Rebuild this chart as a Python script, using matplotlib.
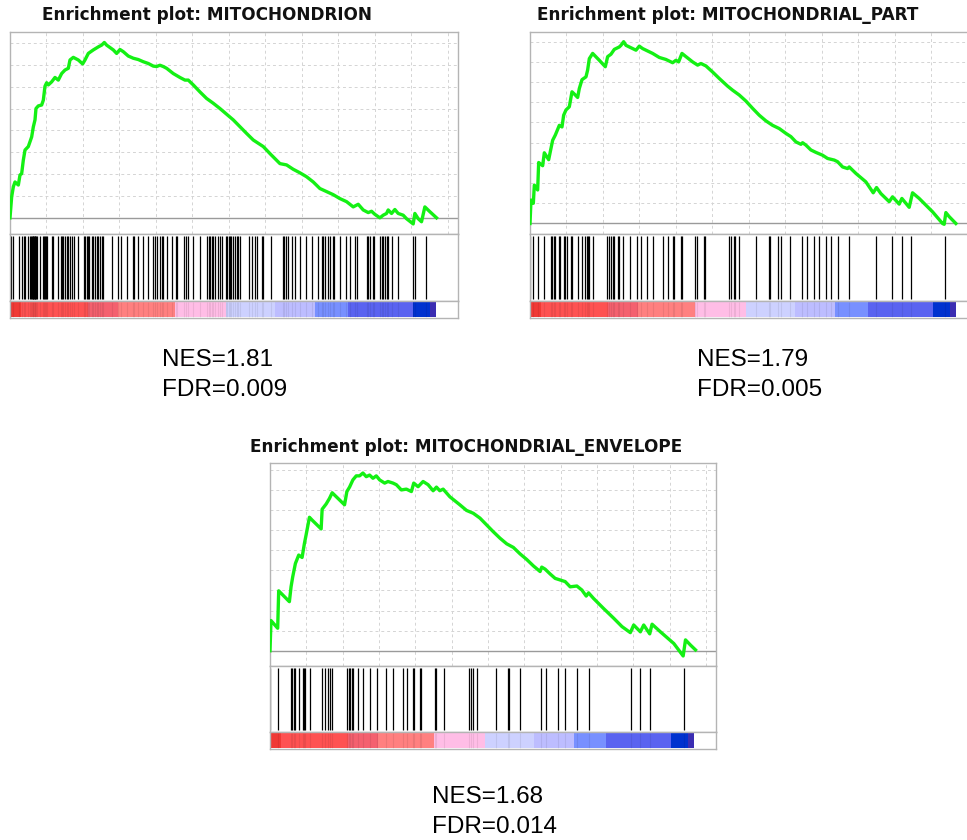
import matplotlib
matplotlib.use("Agg")
import matplotlib.pyplot as plt
import numpy as np

W, H = 967, 840
fig = plt.figure(figsize=(W / 100, H / 100), dpi=100)
fig.patch.set_facecolor("white")

# ---------------- data ----------------
titles = ["Enrichment plot: MITOCHONDRION",
          "Enrichment plot: MITOCHONDRIAL_PART",
          "Enrichment plot: MITOCHONDRIAL_ENVELOPE"]
nes_values = ["1.81", "1.79", "1.68"]
fdr_values = ["0.009", "0.005", "0.014"]

x_max = 24550
x_grid = list(range(0, 24001, 2000))

# running enrichment score, panel 1 (rank, ES)
es1_rank = [0, 91, 183, 274, 457, 548, 639, 730, 822, 1004, 1187, 1278, 1370, 1424, 1552,
            1735, 1826, 1917, 2009, 2100, 2283, 2465, 2648, 2830, 3013, 3196, 3287, 3469,
            3743, 3981, 4109, 4291, 4565, 4839, 5022, 5168, 5295, 5661, 5843, 6026, 6208,
            6482, 6756, 7030, 7304, 7578, 7852, 8034, 8217, 8400, 8582, 8947, 9313, 9587,
            9769, 10043, 10408, 10773, 11139, 11504, 12234, 12965, 13330, 13878, 14243,
            14791, 15156, 15521, 15886, 16251, 16617, 16982, 17347, 17712, 18077, 18443,
            18808, 19082, 19356, 19630, 19812, 19995, 20269, 20451, 20634, 20725, 20908,
            21090, 21273, 21547, 21729, 22095, 22186, 22369, 22551, 22734, 23008, 23373]
es1_val = [0.0, 0.048, 0.071, 0.082, 0.075, 0.098, 0.101, 0.132, 0.155, 0.163, 0.185, 0.208,
           0.224, 0.250, 0.256, 0.258, 0.269, 0.301, 0.309, 0.304, 0.311, 0.321, 0.315,
           0.330, 0.338, 0.342, 0.361, 0.367, 0.361, 0.352, 0.361, 0.376, 0.384, 0.391,
           0.395, 0.401, 0.395, 0.384, 0.376, 0.385, 0.380, 0.370, 0.365, 0.362, 0.357,
           0.353, 0.347, 0.346, 0.349, 0.346, 0.342, 0.330, 0.321, 0.315, 0.315, 0.304,
           0.288, 0.273, 0.262, 0.250, 0.224, 0.193, 0.178, 0.163, 0.147, 0.124, 0.121,
           0.111, 0.103, 0.094, 0.082, 0.067, 0.060, 0.053, 0.044, 0.037, 0.025, 0.031,
           0.018, 0.012, 0.015, 0.008, 0.0, 0.006, 0.010, 0.018, 0.010, 0.019, 0.010,
           0.006, -0.002, -0.014, 0.010, -0.002, -0.009, 0.025, 0.014, 0.0]

# panel 2
es2_rank = [0, 55, 183, 237, 420, 475, 694, 785, 1023, 1150, 1242, 1388, 1516, 1607, 1753,
            1844, 1972, 2155, 2301, 2483, 2611, 2702, 2849, 3068, 3159, 3250, 3433, 3798,
            4127, 4255, 4437, 4620, 4894, 4985, 5131, 5259, 5624, 5807, 5989, 6172, 6446,
            6720, 7085, 7451, 7816, 7998, 8144, 8327, 8546, 8911, 9185, 9367, 9641, 10006,
            10372, 10828, 11102, 11467, 11833, 12198, 12563, 12928, 13293, 13659, 14024,
            14298, 14572, 14846, 14937, 15119, 15393, 15667, 16032, 16306, 16671, 16854,
            17128, 17402, 17493, 17858, 18406, 18808, 18990, 19228, 19684, 19867, 20232,
            20378, 20780, 20962, 21327, 22058, 22606, 22697, 22789, 22971, 23337]
es2_val = [0.0, 0.058, 0.050, 0.095, 0.083, 0.151, 0.143, 0.175, 0.158, 0.186, 0.206, 0.219,
           0.233, 0.243, 0.239, 0.268, 0.281, 0.289, 0.326, 0.318, 0.312, 0.334, 0.356,
           0.363, 0.380, 0.408, 0.421, 0.404, 0.388, 0.413, 0.419, 0.431, 0.437, 0.441,
           0.450, 0.441, 0.433, 0.429, 0.439, 0.433, 0.427, 0.421, 0.411, 0.406, 0.398,
           0.404, 0.400, 0.421, 0.413, 0.400, 0.392, 0.396, 0.390, 0.375, 0.359, 0.340,
           0.330, 0.318, 0.303, 0.285, 0.268, 0.254, 0.243, 0.235, 0.223, 0.215, 0.202,
           0.196, 0.200, 0.194, 0.182, 0.176, 0.169, 0.161, 0.157, 0.153, 0.140, 0.136,
           0.140, 0.124, 0.103, 0.076, 0.089, 0.074, 0.054, 0.066, 0.048, 0.062, 0.040,
           0.076, 0.062, 0.029, 0.0, -0.002, 0.027, 0.017, 0.0]

# panel 3
es3_rank = [0, 55, 423, 478, 1067, 1159, 1251, 1398, 1582, 1766, 1895, 1987, 2171, 2318,
            2815, 2870, 3091, 3275, 3422, 4103, 4232, 4379, 4563, 4747, 4931, 5115, 5299,
            5483, 5667, 5851, 6035, 6311, 6495, 6771, 6955, 7231, 7507, 7783, 7912, 8151,
            8427, 8703, 8979, 9163, 9347, 9531, 9899, 10451, 10819, 11187, 11555, 11923,
            12291, 12659, 13027, 13395, 13763, 14131, 14499, 14867, 14959, 15143, 15419,
            15695, 15971, 16247, 16523, 16891, 17167, 17406, 17535, 17811, 18363, 18915,
            19375, 19835, 20019, 20387, 20571, 20902, 21031, 21491, 22227, 22742, 22871,
            23147, 23423]
es3_val = [0.0, 0.075, 0.056, 0.149, 0.122, 0.159, 0.184, 0.217, 0.238, 0.232, 0.267, 0.288,
           0.332, 0.325, 0.303, 0.352, 0.365, 0.379, 0.393, 0.363, 0.396, 0.407, 0.425,
           0.435, 0.435, 0.442, 0.433, 0.437, 0.429, 0.435, 0.425, 0.417, 0.421, 0.417,
           0.413, 0.400, 0.402, 0.396, 0.417, 0.408, 0.421, 0.413, 0.398, 0.407, 0.398,
           0.402, 0.383, 0.363, 0.349, 0.342, 0.330, 0.313, 0.296, 0.280, 0.266, 0.257,
           0.241, 0.227, 0.211, 0.197, 0.208, 0.203, 0.191, 0.180, 0.176, 0.172, 0.159,
           0.161, 0.151, 0.136, 0.144, 0.130, 0.105, 0.081, 0.060, 0.045, 0.064, 0.047,
           0.064, 0.042, 0.066, 0.047, 0.018, -0.013, 0.027, 0.014, 0.002]

# gene-set hit positions (rank in ordered list)
hits1 = [37, 183, 511, 639, 767, 840, 1004, 1096, 1150, 1205, 1240, 1278, 1315, 1351, 1390,
         1424, 1461, 1643, 1826, 1881, 1930, 1972, 2045, 2283, 2374, 2648, 2794, 2867,
         2922, 3013, 3104, 3196, 3287, 3378, 3506, 3743, 4054, 4127, 4200, 4291, 4346,
         4474, 4565, 4656, 4748, 4839, 4930, 5040, 5113, 5569, 5935, 6062, 6391, 6720,
         6793, 7030, 7304, 7578, 7852, 7925, 8034, 8217, 8308, 8400, 8582, 8856, 9093,
         9167, 9550, 9641, 9769, 10043, 10408, 10810, 10883, 10956, 11047, 11139, 11230,
         11413, 11504, 11595, 11832, 11906, 11979, 12052, 12125, 12198, 12344, 12417,
         12508, 12599, 13111, 13239, 13421, 13549, 13786, 13841, 14279, 14937, 15010,
         15119, 15247, 15430, 15612, 15886, 16215, 16525, 16891, 17073, 17128, 17256,
         17438, 17530, 17676, 17767, 18077, 18406, 18625, 18899, 18990, 19538, 19630,
         19721, 19867, 19940, 20269, 20360, 20451, 20543, 20634, 20725, 20908, 21273,
         22095, 22186, 22788]
hits2 = [18, 146, 457, 749, 1150, 1223, 1296, 1388, 1570, 1643, 1844, 1917, 2009, 2246,
         2283, 2611, 2830, 3031, 3122, 3196, 3250, 3433, 4200, 4309, 4437, 4528, 4620,
         4802, 4894, 5076, 5496, 5843, 6081, 6391, 6756, 7304, 7541, 7815, 7870, 8272,
         8327, 9057, 9130, 9513, 9587, 10919, 11011, 11157, 11248, 11467, 12380, 13074,
         13165, 13567, 13750, 14243, 14900, 15156, 15576, 15850, 16215, 16489, 16854,
         17493, 18954, 19830, 20378, 20871, 22752]
hits3 = [18, 460, 1159, 1214, 1306, 1398, 1619, 1803, 1895, 1950, 2226, 2852, 3054, 3183,
         3312, 3422, 4232, 4342, 4416, 4526, 4563, 4839, 5115, 5483, 5888, 6403, 6771,
         7323, 7562, 7875, 7930, 8280, 8335, 9108, 9163, 9568, 10948, 11040, 11187,
         11408, 12438, 13082, 13156, 13763, 14922, 15198, 15879, 16247, 16891, 17535,
         19890, 20387, 20902, 22779]

# ranked-metric heat bar: segment edges (rank) and colours
cb_edges = [0, 603, 4274, 5918, 9042, 11836, 14522, 16714, 18522, 22084, 23016, 23345]
cb_colors = ["#f03a36", "#fe5252", "#f4616f", "#ff8080", "#ffbde6", "#cdd1ff",
             "#bdbdff", "#7890ff", "#5a63f0", "#0032cf", "#3b2db2"]

# ---------------- layout (pixels) ----------------
panels = [
    dict(title=titles[0], rank=es1_rank, es=es1_val, hits=hits1,
         x0=10, x1=458, top=32, es_bot=234, hit_bot=301, cb_bot=318,
         ylim=(-0.037, 0.425), ytop=0.40, title_x=42, title_y=15,
         txt_x=162, txt_y=(360, 390), nes=nes_values[0], fdr=fdr_values[0]),
    dict(title=titles[1], rank=es2_rank, es=es2_val, hits=hits2,
         x0=530, x1=978, top=32, es_bot=234, hit_bot=301, cb_bot=318,
         ylim=(-0.026, 0.474), ytop=0.45, title_x=537, title_y=15,
         txt_x=697, txt_y=(360, 390), nes=nes_values[1], fdr=fdr_values[1]),
    dict(title=titles[2], rank=es3_rank, es=es3_val, hits=hits3,
         x0=270, x1=716, top=463, es_bot=666, hit_bot=732, cb_bot=749,
         ylim=(-0.038, 0.467), ytop=0.45, title_x=250, title_y=447,
         txt_x=432, txt_y=(797, 827), nes=nes_values[2], fdr=fdr_values[2]),
]

spine_col = "#b4b4b4"


def px_axes(x0, y0, x1, y1):
    return fig.add_axes([x0 / W, 1 - y1 / H, (x1 - x0) / W, (y1 - y0) / H])


def style(ax):
    for s in ax.spines.values():
        s.set_color(spine_col)
        s.set_linewidth(1.0)
    ax.set_xticks([])
    ax.set_yticks([])
    ax.set_xlim(0, x_max)


for p in panels:
    # enrichment score axes
    ax = px_axes(p["x0"], p["top"], p["x1"], p["es_bot"])
    style(ax)
    ax.set_ylim(*p["ylim"])
    for gx in x_grid[1:]:
        ax.axvline(gx, color="#d4d4d4", lw=0.7, ls=(0, (3, 3)), zorder=0)
    for gy in np.arange(0.05, p["ytop"] + 1e-9, 0.05):
        ax.axhline(gy, color="#d4d4d4", lw=0.7, ls=(0, (3, 3)), zorder=0)
    ax.axhline(0, color="#9a9a9a", lw=1.0, zorder=1)
    ax.plot(p["rank"], p["es"], color="#14f014", lw=2.4, solid_joinstyle="round",
            zorder=3)

    # hits axes
    axh = px_axes(p["x0"], p["es_bot"], p["x1"], p["hit_bot"])
    style(axh)
    axh.set_ylim(0, 1)
    axh.vlines(p["hits"], 0.03, 0.97, color="black", lw=0.9)

    # ranked list heat bar
    axc = px_axes(p["x0"], p["hit_bot"], p["x1"], p["cb_bot"])
    style(axc)
    axc.set_ylim(0, 1)
    for i, c in enumerate(cb_colors):
        axc.axvspan(cb_edges[i], cb_edges[i + 1], ymin=0.04, ymax=0.96,
                    color=c, lw=0)
    axc.vlines(p["hits"], 0.04, 0.96, color="black", lw=0.8, alpha=0.07)

    # title
    fig.text(p["title_x"] / W, 1 - p["title_y"] / H, p["title"], fontsize=12.2,
             fontweight="bold", family="DejaVu Sans", ha="left", va="center",
             color="#111111")
    # statistics
    fig.text(p["txt_x"] / W, 1 - p["txt_y"][0] / H, "NES=" + p["nes"],
             fontsize=17.5, family="Liberation Sans", ha="left", va="center")
    fig.text(p["txt_x"] / W, 1 - p["txt_y"][1] / H, "FDR=" + p["fdr"],
             fontsize=17.5, family="Liberation Sans", ha="left", va="center")

fig.savefig("out.png", dpi=100, facecolor="white")
